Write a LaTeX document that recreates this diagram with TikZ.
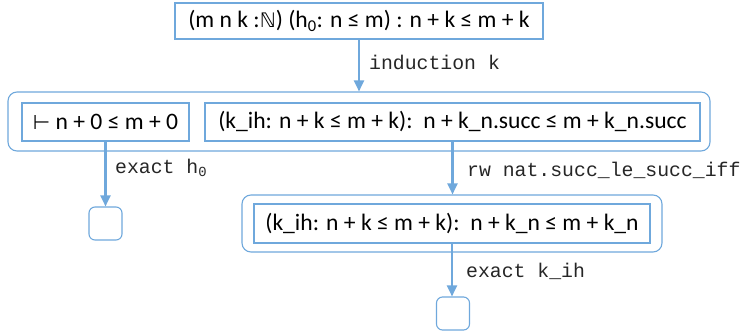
\documentclass[tikz,border=0pt]{standalone}
\usepackage{fontspec}
\newfontfamily\goalfam{Carlito}
\newfontfamily\symfont{DejaVu Sans}
\newfontfamily\codefont{Liberation Mono}
\usetikzlibrary{arrows.meta}
\definecolor{lb}{HTML}{6FA8DC}
\newcommand\goalfont{\goalfam\fontsize{23.6}{27}\selectfont}
\newcommand\labfont{\codefont\fontsize{19.8}{22}\selectfont}
\tikzset{
  goal/.style={draw=lb, line width=2.4pt, fill=white, inner sep=0pt, font=\goalfont, text=black},
  group/.style={draw=lb, line width=1.1pt, rounded corners=9pt, inner sep=0pt},
  done/.style={draw=lb, line width=1.1pt, rounded corners=6pt, inner sep=0pt, minimum width=33pt, minimum height=33pt},
  tac/.style={draw=lb, line width=2.2pt, -{Triangle[length=11pt,width=10pt]}},
  lab/.style={font=\labfont, anchor=west, inner sep=0pt, text=black!85}
}
\begin{document}
\begin{tikzpicture}[x=1pt,y=-1pt]
\useasboundingbox (0,0) rectangle (742,335);
\node[group, minimum width=702pt, minimum height=59pt] (g1) at (359,121.5) {};
\node[group, minimum width=420pt, minimum height=57pt] (g2) at (452,223.5) {};
\node[goal, minimum width=368pt, minimum height=36pt] (top) at (359,21) {(m n k :{\symfont\fontsize{20}{24}\selectfont ℕ}) (h\textsubscript{0}: n ≤ m) : n + k ≤ m + k};
\node[goal, minimum width=167pt, minimum height=38pt] (a) at (105.5,122) {{\symfont\fontsize{20}{24}\selectfont ⊢} n + 0 ≤ m + 0};
\node[goal, minimum width=495pt, minimum height=38pt] (b) at (452.5,122) {(k\_ih: n + k ≤ m + k):\ \ n + k\_n.succ ≤ m + k\_n.succ};
\node[goal, minimum width=396pt, minimum height=39pt] (c) at (452,223.5) {(k\_ih: n + k ≤ m + k):\ \ n + k\_n ≤ m + k\_n};
\node[done] (s1) at (105.5,223.5) {};
\node[done] (s2) at (453,313.5) {};
\draw[tac] (top.south) -- (g1.north);
\draw[tac] (a.south) -- (s1.north);
\draw[tac] (b.south) -- (b.south |- g2.north);
\draw[tac] (c.south) -- (c.south |- s2.north);
\node[lab] (l1) at (369,62) {induction k};
\node[lab] (l2) at (115,168) {exact h\textsubscript{0}};
\node[lab] (l3) at (467,170) {rw nat.succ\_le\_succ\_iff};
\node[lab] (l4) at (466,271) {exact k\_ih};
\end{tikzpicture}
\end{document}
